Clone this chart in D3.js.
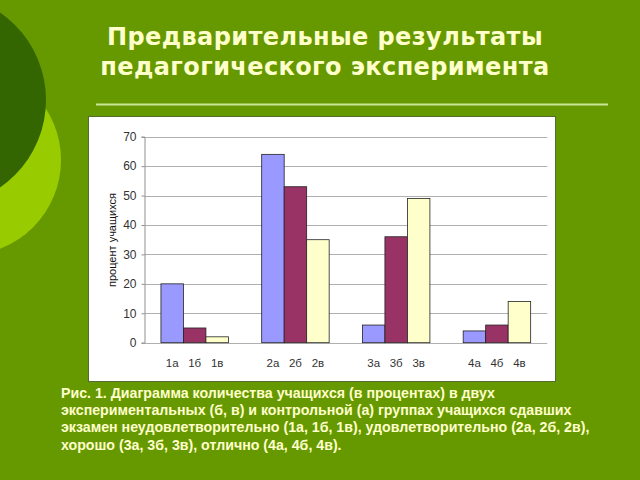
<!DOCTYPE html>
<html>
<head>
<meta charset="utf-8">
<script src="https://cdn.jsdelivr.net/npm/d3@7"></script>
<style>
  html, body { margin: 0; padding: 0; background: #669900; }
  svg { display: block; }
</style>
</head>
<body>
<script>
// ---- data ----
const groups = ["1", "2", "3", "4"];
const series = ["а", "б", "в"];
const valuesA = [20, 64, 6, 4];
const valuesB = [5, 53, 36, 6];
const valuesV = [2, 35, 49, 14];
const yTicks = [0, 10, 20, 30, 40, 50, 60, 70];
const seriesColors = ["#9999ff", "#993366", "#ffffcc"];
const titleLines = ["Предварительные результаты", "педагогического эксперимента"];
const yTitle = "процент учащихся";
const captionLines = [
  "Рис. 1. Диаграмма количества учащихся (в процентах) в двух",
  "экспериментальных (б, в) и контрольной (а) группах учащихся сдавших",
  "экзамен неудовлетворительно (1а, 1б, 1в), удовлетворительно (2а, 2б, 2в),",
  "хорошо (3а, 3б, 3в), отлично (4а, 4б, 4в)."
];

const allValues = [valuesA, valuesB, valuesV];
const data = groups.map((g, gi) => ({
  group: g,
  bars: series.map((s, si) => ({ key: g + s, series: s, si, value: allValues[si][gi] }))
}));

const W = 640, H = 480;
const svg = d3.select("body").append("svg").attr("width", W).attr("height", H);

// background
svg.append("rect").attr("width", W).attr("height", H).attr("fill", "#669900");
svg.append("circle").attr("cx", -34).attr("cy", 160).attr("r", 95).attr("fill", "#99cc00");
svg.append("circle").attr("cx", -60).attr("cy", 100).attr("r", 106).attr("fill", "#336600");

// title
svg.append("g").selectAll("text").data(titleLines).join("text")
  .attr("x", 325).attr("y", (d, i) => 45 + i * 30)
  .attr("text-anchor", "middle")
  .attr("font-family", "DejaVu Sans, Verdana, sans-serif")
  .attr("font-weight", "bold")
  .attr("font-size", 24)
  .attr("letter-spacing", 0.4)
  .attr("fill", "#ffffcc")
  .text(d => d);

svg.append("line").attr("x1", 96).attr("x2", 608).attr("y1", 104.5).attr("y2", 104.5)
  .attr("stroke", "#cce699").attr("stroke-width", 2);

// chart box
svg.append("rect").attr("x", 88.5).attr("y", 116.5).attr("width", 467).attr("height", 265)
  .attr("fill", "#ffffff").attr("stroke", "#556b2f").attr("stroke-width", 1);

const x0 = d3.scaleBand().domain(groups).range([144.3, 547.3]).padding(0);
const x1 = d3.scaleBand().domain(series).range([0, x0.bandwidth()]).paddingInner(0).paddingOuter(0.74);
const y = d3.scaleLinear().domain([0, 70]).range([342.7, 136.7]);

// gridlines
svg.append("g").selectAll("line").data(yTicks).join("line")
  .attr("x1", 144.3).attr("x2", 547.3)
  .attr("y1", d => Math.round(y(d)) + 0.5).attr("y2", d => Math.round(y(d)) + 0.5)
  .attr("stroke", "#b0b0b0").attr("stroke-width", 1);

// y axis
const yAxis = svg.append("g").attr("transform", "translate(144.5,0)")
  .call(d3.axisLeft(y).tickValues(yTicks).tickSize(3).tickPadding(5));
yAxis.select(".domain").attr("stroke", "#909090");
yAxis.selectAll(".tick line").attr("stroke", "#909090");
yAxis.selectAll("text").attr("font-family", "Liberation Sans, Arial, sans-serif")
  .attr("font-size", 12).attr("fill", "#333");

// bars
const gGroups = svg.append("g").selectAll("g").data(data).join("g")
  .attr("transform", d => `translate(${x0(d.group)},0)`);
gGroups.selectAll("rect").data(d => d.bars).join("rect")
  .attr("x", d => x1(d.series))
  .attr("y", d => y(d.value))
  .attr("width", x1.bandwidth())
  .attr("height", d => y(0) - y(d.value))
  .attr("fill", d => seriesColors[d.si])
  .attr("stroke", "#222").attr("stroke-width", 0.8);

// x labels
gGroups.selectAll("text").data(d => d.bars).join("text")
  .attr("x", d => x1(d.series) + x1.bandwidth() / 2)
  .attr("y", 367)
  .attr("text-anchor", "middle")
  .attr("font-family", "Liberation Sans, Arial, sans-serif")
  .attr("font-size", 11.5)
  .attr("fill", "#333")
  .text(d => d.key);

// y title
svg.append("text")
  .attr("transform", "translate(115.5,240) rotate(-90)")
  .attr("text-anchor", "middle")
  .attr("font-family", "Liberation Sans, Arial, sans-serif")
  .attr("font-size", 11)
  .attr("fill", "#111")
  .text(yTitle);

// caption
svg.append("g").selectAll("text").data(captionLines).join("text")
  .attr("x", 61).attr("y", (d, i) => 398 + i * 17.2)
  .attr("font-family", "Liberation Sans, Arial, sans-serif")
  .attr("font-weight", "bold")
  .attr("font-size", 14.2)
  .attr("fill", "#ffffcc")
  .text(d => d);
</script>
</body>
</html>
